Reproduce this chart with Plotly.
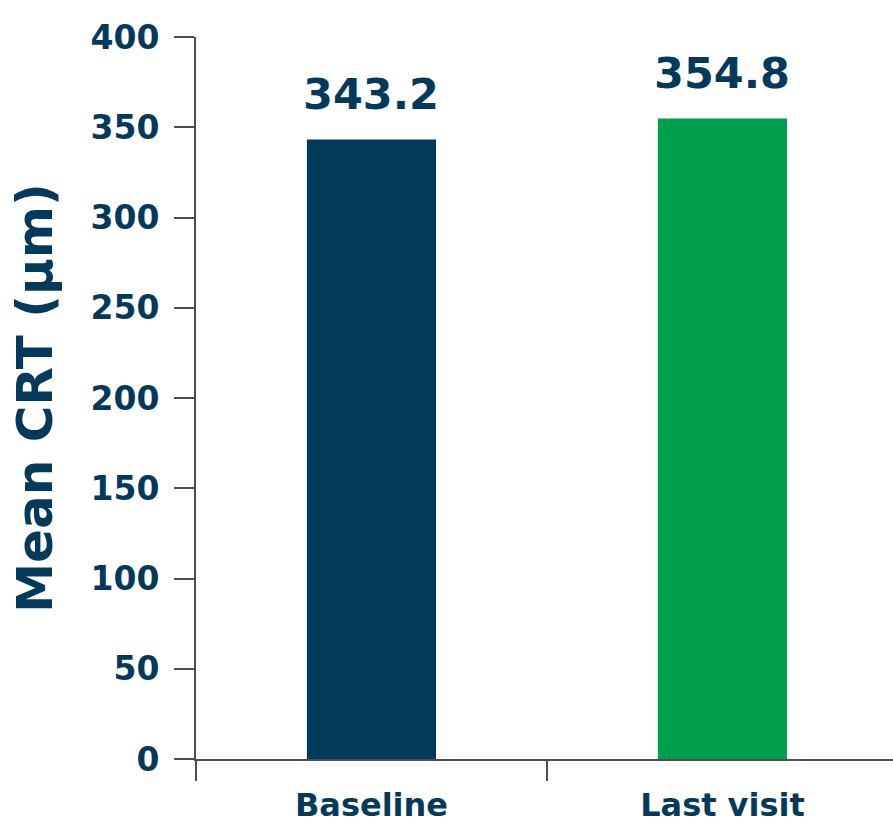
import plotly.graph_objects as go

categories = ["Baseline", "Last visit"]
mean_crt = [343.2, 354.8]
bar_colors = ["#033A5B", "#009F4D"]
y_ticks = [0, 50, 100, 150, 200, 250, 300, 350, 400]

NAVY = "#033A5B"
AXIS = "#4D4D4D"
FONT = "DejaVu Sans"

fig = go.Figure(
    go.Bar(
        x=categories,
        y=mean_crt,
        marker=dict(color=bar_colors, line=dict(width=0)),
        width=0.368,
        hoverinfo="skip",
    )
)

for cat, val in zip(categories, mean_crt):
    fig.add_annotation(
        x=cat, y=val, text=f"{val:.1f}", showarrow=False,
        yanchor="bottom", yshift=19,
        font=dict(family=FONT, size=43, color=NAVY, weight="bold"),
    )

fig.update_layout(
    width=893, height=825,
    margin=dict(l=196, r=0, t=37, b=66),
    paper_bgcolor="white", plot_bgcolor="white",
    showlegend=False,
    bargap=0.632,
)

fig.update_xaxes(
    type="category",
    range=[-0.5, 1.486],
    tickson="boundaries",
    ticks="outside", ticklen=20, tickwidth=2, tickcolor=AXIS,
    showline=True, linewidth=2, linecolor=AXIS,
    showgrid=False, zeroline=False,
    tickfont=dict(family=FONT, size=32, color=NAVY, weight="bold"),
    ticklabelstandoff=17,
)

fig.update_yaxes(
    range=[0, 400],
    tickvals=y_ticks,
    ticks="outside", ticklen=20, tickwidth=2, tickcolor=AXIS,
    showline=True, linewidth=2, linecolor=AXIS,
    showgrid=False, zeroline=False,
    tickfont=dict(family=FONT, size=33, color=NAVY, weight="bold"),
    ticklabelstandoff=8,
    title=dict(text="Mean CRT (μm)", standoff=22,
               font=dict(family=FONT, size=50, color=NAVY, weight="bold")),
)

fig.write_html("out.html")
